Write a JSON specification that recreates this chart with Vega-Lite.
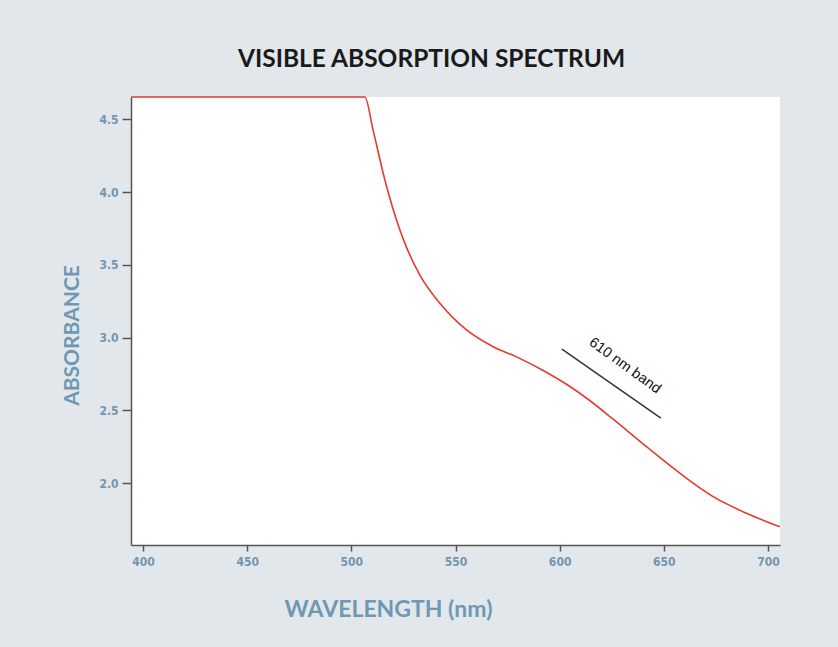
{
  "$schema": "https://vega.github.io/schema/vega-lite/v6.json",
  "autosize": "none",
  "width": 649,
  "height": 448,
  "padding": {"left": 131, "top": 97, "right": 58, "bottom": 102},
  "background": "#e2e7ec",
  "title": {
    "text": "VISIBLE ABSORPTION SPECTRUM",
    "font": "Lato",
    "fontSize": 24.5,
    "fontWeight": "bold",
    "color": "#1a1a1a",
    "anchor": "middle",
    "dx": -24,
    "offset": 21
  },
  "config": {
    "view": {"fill": "white", "stroke": null},
    "axis": {
      "grid": false,
      "domainColor": "#555555",
      "domainWidth": 1.5,
      "tickColor": "#555555",
      "tickWidth": 1.5,
      "labelFont": "DejaVu Sans Condensed",
      "labelFontWeight": "bold",
      "labelFontSize": 12,
      "labelColor": "#7396ae",
      "titleFont": "Lato",
      "titleFontWeight": "bold",
      "titleColor": "#6f98b3"
    }
  },
  "datasets": {
    "spectrum": [
      {"wavelength": 394.2, "absorbance": 4.653},
      {"wavelength": 506.5, "absorbance": 4.653},
      {"wavelength": 510.4, "absorbance": 4.427},
      {"wavelength": 516.1, "absorbance": 4.083},
      {"wavelength": 523.3, "absorbance": 3.740},
      {"wavelength": 526.5, "absorbance": 3.620},
      {"wavelength": 532.9, "absorbance": 3.430},
      {"wavelength": 542.5, "absorbance": 3.236},
      {"wavelength": 555.3, "absorbance": 3.053},
      {"wavelength": 568.1, "absorbance": 2.938},
      {"wavelength": 579.3, "absorbance": 2.868},
      {"wavelength": 592.1, "absorbance": 2.775},
      {"wavelength": 603.3, "absorbance": 2.680},
      {"wavelength": 613.0, "absorbance": 2.584},
      {"wavelength": 625.7, "absorbance": 2.440},
      {"wavelength": 641.7, "absorbance": 2.251},
      {"wavelength": 657.7, "absorbance": 2.069},
      {"wavelength": 673.7, "absorbance": 1.908},
      {"wavelength": 689.7, "absorbance": 1.794},
      {"wavelength": 705.7, "absorbance": 1.702}
    ],
    "annot": [
      {"x1": 601.1, "y1": 2.922, "x2": 648.6, "y2": 2.448, "tx": 631.3, "ty": 2.806, "label": "610 nm band"}
    ]
  },
  "layer": [
    {
      "data": {"name": "spectrum"},
      "mark": {"type": "line", "color": "#e53a2f", "strokeWidth": 1.6, "interpolate": "monotone"},
      "encoding": {
        "x": {
          "field": "wavelength",
          "type": "quantitative",
          "scale": {"domain": [394.2, 705.8], "nice": false, "zero": false},
          "axis": {
            "values": [400, 450, 500, 550, 600, 650, 700],
            "tickSize": 6,
            "labelPadding": 5,
            "title": "WAVELENGTH (nm)",
            "titleFontSize": 23,
            "titleX": 257,
            "titleY": 71,
            "titleAlign": "center",
            "titleBaseline": "alphabetic"
          }
        },
        "y": {
          "field": "absorbance",
          "type": "quantitative",
          "scale": {"domain": [1.576, 4.653], "nice": false, "zero": false},
          "axis": {
            "values": [2.0, 2.5, 3.0, 3.5, 4.0, 4.5],
            "format": ".1f",
            "tickSize": 9,
            "labelPadding": 4,
            "title": "ABSORBANCE",
            "titleFontSize": 21,
            "titleAngle": 270,
            "titleX": -59,
            "titleY": 238,
            "titleAlign": "center",
            "titleBaseline": "middle"
          }
        }
      }
    },
    {
      "data": {"name": "annot"},
      "mark": {"type": "rule", "color": "#333333", "strokeWidth": 1.5},
      "encoding": {
        "x": {"field": "x1", "type": "quantitative"},
        "y": {"field": "y1", "type": "quantitative"},
        "x2": {"field": "x2"},
        "y2": {"field": "y2"}
      }
    },
    {
      "data": {"name": "annot"},
      "mark": {"type": "text", "font": "Liberation Sans", "fontSize": 14.5, "angle": 36, "color": "#111111", "align": "center", "baseline": "middle"},
      "encoding": {
        "x": {"field": "tx", "type": "quantitative"},
        "y": {"field": "ty", "type": "quantitative"},
        "text": {"field": "label"}
      }
    }
  ]
}
